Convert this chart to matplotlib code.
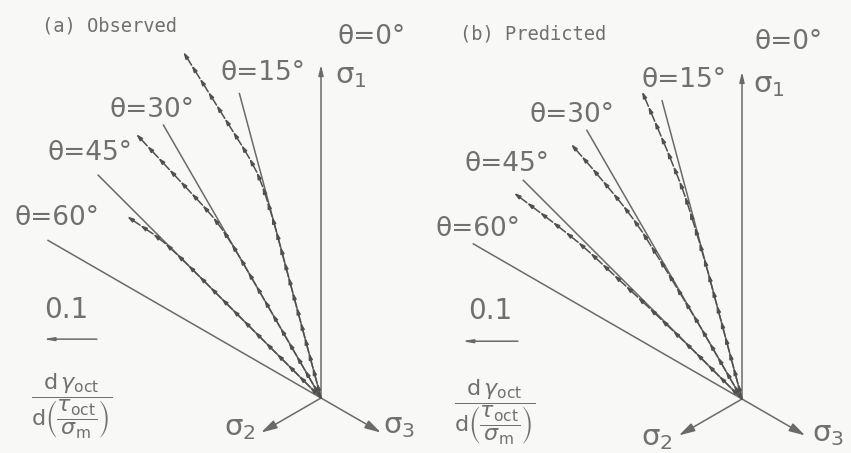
import numpy as np
import matplotlib
matplotlib.use("Agg")
import matplotlib.pyplot as plt

plt.rcParams["mathtext.fontset"] = "dejavusans"

# Stress-path directions on the octahedral plane (degrees from sigma_1)
path_theta = [15, 30, 45, 60]
path_len_a = [0.585, 0.585, 0.585, 0.585]
path_len_b = [0.573, 0.576, 0.574, 0.576]

# Principal-axis arrow lengths: sigma_1, sigma_2, sigma_3
axis_len_a = [0.617, 0.128, 0.128]
axis_len_b = [0.606, 0.135, 0.135]

# Directions (deg from sigma_1) of successive strain-increment vectors
obs_dir_15 = [15, 15, 15, 15, 15, 15, 15, 15, 15, 15, 15, 16, 17, 18,
              22, 28, 31, 32, 32, 32, 32, 32, 32, 32]
obs_dir_30 = [30, 30, 30, 30, 30, 30, 30, 30, 30, 30, 31, 33,
              37, 41, 43, 43, 43, 43, 43, 43]
obs_dir_45 = [45, 45, 45, 45, 45, 45, 45, 45, 45, 45, 45, 45, 46, 47,
              52, 56, 56]
pred_dir_15 = [15, 15, 15, 15, 15, 15, 15, 15, 16, 16, 17, 17, 18,
               20, 22, 22, 23, 23, 23, 23]
pred_dir_30 = [30, 30, 30, 30, 30, 31, 31, 31, 31, 32, 32, 32,
               35, 37, 39, 40, 40, 41, 41]
pred_dir_45 = [45, 45, 45, 45, 46, 46, 46, 46, 47, 47, 47, 47, 47,
               49, 51, 52, 53, 53, 53]

# Magnitude of each increment vector, per path (15, 30, 45 deg)
obs_step = [0.029, 0.030, 0.029]
pred_step = [0.030, 0.030, 0.030]

LINE = "#6a6a6a"
DARK = "#505050"
TXT = "#707070"
BG = "#f8f8f6"
K = 540.0  # pixels per unit

fig = plt.figure(figsize=(8.51, 4.53), dpi=100, facecolor=BG)


def unit(a):
    r = np.radians(a)
    return -np.sin(r), np.cos(r)


def arrow(ax, p0, p1, head, lw=1.1, color=LINE, ms=10):
    ax.annotate("", xy=p1, xytext=p0,
                arrowprops=dict(arrowstyle=head, mutation_scale=ms, lw=lw,
                                color=color, shrinkA=0, shrinkB=0))


def chain(ax, dirs, step):
    x, y = 0.0, 0.0
    for a in dirs:
        ux, uy = unit(a)
        nx, ny = x + step * ux, y + step * uy
        arrow(ax, (x, y), (nx, ny), "-|>,head_length=0.4,head_width=0.12",
              lw=1.1, color=DARK, ms=9)
        x, y = nx, ny


def panel(ax, title, path_len, axis_len, chains, steps, lab):
    ax.set_facecolor(BG)
    ax.axis("off")
    # stress paths
    for t, L in zip(path_theta, path_len):
        ux, uy = unit(t)
        ax.plot([0, L * ux], [0, L * uy], color=LINE, lw=1.1,
                solid_capstyle="butt")
    # principal stress axes
    arrow(ax, (0, 0), (0, axis_len[0]), "-|>,head_length=0.5,head_width=0.12",
          ms=12)
    for a, L in zip([120, 240], axis_len[1:]):
        ux, uy = unit(a)
        arrow(ax, (0, 0), (L * ux, L * uy),
              "-|>,head_length=0.8,head_width=0.22", ms=12)
    # strain-increment vectors
    for d, s in zip(chains, steps):
        chain(ax, d, s)

    tf = dict(color=TXT, fontsize=19, family=["DejaVu Sans"],
              ha="center", va="center")
    ax.text(*lab["t0"], "θ=0°", **tf)
    for t, key in zip(path_theta, ["t15", "t30", "t45", "t60"]):
        ax.text(*lab[key], f"θ={t}°", **tf)
    sf = dict(color=TXT, fontsize=21, family=["DejaVu Sans"], va="center")
    ax.text(*lab["s1"], "σ$_1$", ha="left", **sf)
    ax.text(*lab["s2"], "σ$_2$", ha="center", **sf)
    ax.text(*lab["s3"], "σ$_3$", ha="center", **sf)
    ax.text(*lab["title"], title, color=TXT, fontsize=13.5,
            family=["DejaVu Sans Mono"], ha="left", va="center")
    # scale bar
    ax.text(*lab["bar_txt"], "0.1", ha="center", va="center", color=TXT,
            fontsize=20)
    bx0, bx1, by = lab["bar"]
    arrow(ax, (bx1, by), (bx0, by), "-|>,head_length=0.6,head_width=0.1",
          lw=1.1, ms=10)
    ax.text(*lab["frac"],
            r"$\dfrac{\mathrm{d}\,\gamma_{\mathrm{oct}}}"
            r"{\mathrm{d}\left(\dfrac{\tau_{\mathrm{oct}}}{\sigma_{\mathrm{m}}}\right)}$",
            ha="center", va="center", color=TXT, fontsize=16)


ax_a = fig.add_axes([0, 0, 425 / 851, 1])
ax_a.set_xlim(-321 / K, 104 / K)
ax_a.set_ylim(-55 / K, 398 / K)
lab_a = dict(t0=(0.093, 0.669), s1=(0.026, 0.596), t15=(-0.107, 0.602),
             t30=(-0.313, 0.533), t45=(-0.428, 0.454), t60=(-0.489, 0.333),
             s2=(-0.15, -0.056), s3=(0.144, -0.052),
             bar_txt=(-0.472, 0.163), bar=(-0.515, -0.415, 0.109),
             frac=(-0.461, -0.015), title=(-0.517, 0.689))
panel(ax_a, "(a) Observed", path_len_a, axis_len_a,
      [obs_dir_15, obs_dir_30, obs_dir_45], obs_step, lab_a)

ax_b = fig.add_axes([425 / 851, 0, 426 / 851, 1])
ax_b.set_xlim(-317 / K, 109 / K)
ax_b.set_ylim(-54 / K, 399 / K)
lab_b = dict(t0=(0.087, 0.661), s1=(0.020, 0.581), t15=(-0.107, 0.591),
             t30=(-0.315, 0.526), t45=(-0.435, 0.435), t60=(-0.489, 0.315),
             s2=(-0.157, -0.072), s3=(0.159, -0.065),
             bar_txt=(-0.467, 0.163), bar=(-0.519, -0.415, 0.107),
             frac=(-0.459, -0.024), title=(-0.522, 0.676))
panel(ax_b, "(b) Predicted", path_len_b, axis_len_b,
      [pred_dir_15, pred_dir_30, pred_dir_45], pred_step, lab_b)

fig.savefig("out.png", dpi=100, facecolor=BG)
